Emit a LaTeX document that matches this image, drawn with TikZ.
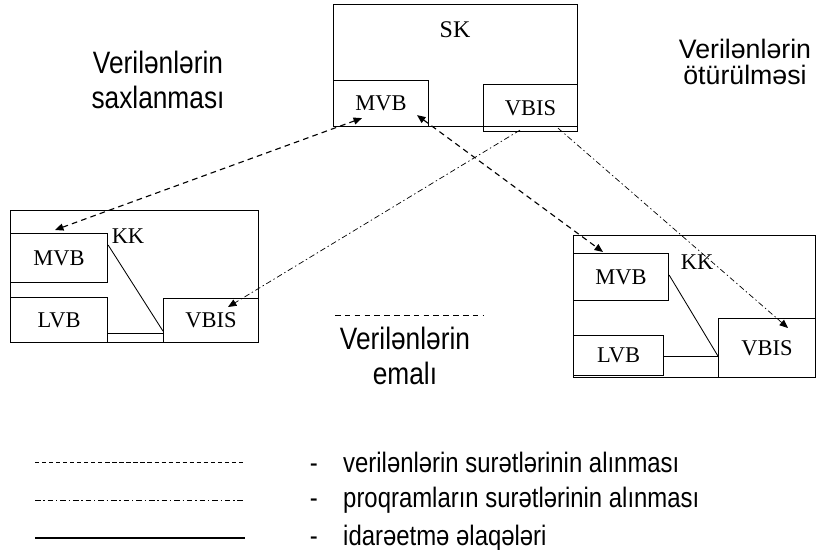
\documentclass[tikz,border=0pt]{standalone}
\usepackage{fontspec}
\setmainfont{Liberation Serif}
\newfontfamily\narrowsans[FakeStretch=0.85]{Liberation Sans}
\newfontfamily\widesans[FakeStretch=1.0]{Liberation Sans}
\usetikzlibrary{calc,arrows.meta}
\newlength\pxu
\setlength\pxu{0.025cm}

\tikzset{
	blok/.style={draw, line width=0.8pt, inner sep=0pt, anchor=north west, font=\fontsize{16}{18}\selectfont},
	yazi/.style={font=\narrowsans\fontsize{22}{25}\selectfont, align=center},
	datacopy/.style={line width=0.8pt, dash pattern=on 4pt off 3pt},
	progcopy/.style={line width=0.5pt, dash pattern=on 4pt off 2pt on 1pt off 2pt},
	ctrl/.style={line width=0.6pt},
	uc/.style={-{Triangle[length=6pt,width=5pt]}},
	ikiuc/.style={{Triangle[length=6pt,width=5pt]}-{Triangle[length=6pt,width=5pt]}},
}

\begin{document}
\begin{tikzpicture}[x=0.025cm,y=-0.025cm]
	\useasboundingbox (0,0) rectangle (816,550);

	%SK
	\node[blok, minimum width=244*\pxu, minimum height=122*\pxu] (sk) at (333,4) {};
	\node[font=\fontsize{17}{19}\selectfont] (sklbl) at (455,30) {SK};
	\node[blok, minimum width=95*\pxu, minimum height=46*\pxu] (skmvb) at (333,80) {MVB};
	\node[blok, minimum width=94*\pxu, minimum height=47*\pxu] (skvbis) at (483,84) {VBIS};

	%KK left
	\node[blok, minimum width=248*\pxu, minimum height=132*\pxu] (kk1) at (10,210) {};
	\node[blok, minimum width=97*\pxu, minimum height=49*\pxu] (kk1mvb) at (10,233) {MVB};
	\node[blok, minimum width=97*\pxu, minimum height=45*\pxu] (kk1lvb) at (10,297) {LVB};
	\node[blok, minimum width=95*\pxu, minimum height=44*\pxu] (kk1vbis) at (163,298) {VBIS};
	\node[font=\fontsize{16}{18}\selectfont] (kk1lbl) at (128,236) {KK};
	\coordinate (kk1x) at ($(kk1lvb.south east)+(0,-10)$);
	\draw[ctrl] (kk1x) -- (kk1x -| kk1vbis.west);
	\draw[ctrl] ($(kk1mvb.north east)+(0,12)$) -- ($(kk1vbis.south west)+(0,-12)$);

	%KK right
	\node[blok, minimum width=242*\pxu, minimum height=142*\pxu] (kk2) at (573,235) {};
	\node[blok, minimum width=95*\pxu, minimum height=47*\pxu] (kk2mvb) at (573,253) {MVB};
	\node[blok, minimum width=90*\pxu, minimum height=40*\pxu] (kk2lvb) at (573,335) {LVB};
	\node[blok, minimum width=97*\pxu, minimum height=59*\pxu] (kk2vbis) at (718,318) {VBIS};
	\node[font=\fontsize{16}{18}\selectfont] (kk2lbl) at (697,262) {KK};
	\coordinate (kk2x) at ($(kk2lvb.south east)+(0,-20)$);
	\draw[ctrl] (kk2x) -- (kk2x -| kk2vbis.west);
	\draw[ctrl] ($(kk2mvb.north east)+(0,22)$) -- ($(kk2vbis.south west)+(0,-22)$);

	%texts
	\node[yazi] (saxla) at (158,80) {Verilənlərin\\saxlanması};
	\node[yazi, font=\widesans\fontsize{19}{19}\selectfont] (oturul) at (745,62) {Verilənlərin\\ötürülməsi};
	\node[yazi] (emal) at (405,356) {Verilənlərin\\emalı};
	\coordinate (em1) at (335,315);
	\coordinate (em2) at (483,315);
	\draw[datacopy, line width=0.5pt] (em1) -- (em2);

	%connectors
	\coordinate (a1) at ($(kk1mvb.north west)+(45,-3)$);
	\coordinate (a2) at ($(skmvb.south west)+(29,-9)$);
	\draw[datacopy, ikiuc] (a1) -- (a2);
	\coordinate (b1) at ($(skmvb.south west)+(84,-12)$);
	\coordinate (b2) at ($(kk2mvb.north west)+(30,-1)$);
	\draw[datacopy, ikiuc] (b1) -- (b2);
	\coordinate (c1) at ($(skvbis.south west)+(37,-2)$);
	\coordinate (c2) at ($(kk1vbis.north west)+(65,9)$);
	\draw[progcopy, uc] (c1) -- (c2);
	\coordinate (d1) at ($(skvbis.south west)+(75,-4)$);
	\coordinate (d2) at ($(kk2vbis.north west)+(70,10)$);
	\draw[progcopy, uc] (d1) -- (d2);

	%legend
	\coordinate (l1a) at (35,462);  \coordinate (l1b) at (245,462);
	\coordinate (l2a) at (35,500);  \coordinate (l2b) at (245,500);
	\coordinate (l3a) at (35,538);  \coordinate (l3b) at (245,538);
	\draw[datacopy, line width=0.5pt, dash pattern=on 3pt off 2pt] (l1a) -- (l1b);
	\draw[progcopy] (l2a) -- (l2b);
	\draw[ctrl, line width=0.8pt] (l3a) -- (l3b);
	\node[yazi, font=\narrowsans\fontsize{20}{22}\selectfont, anchor=west] (t1) at (305,462) {-\hspace{18pt}verilənlərin surətlərinin alınması};
	\node[yazi, font=\narrowsans\fontsize{20}{22}\selectfont, anchor=west] (t2) at (305,500) {-\hspace{18pt}proqramların surətlərinin alınması};
	\node[yazi, font=\narrowsans\fontsize{20}{22}\selectfont, anchor=west] (t3) at (305,538) {-\hspace{18pt}idarəetmə əlaqələri};
\end{tikzpicture}
\end{document}
